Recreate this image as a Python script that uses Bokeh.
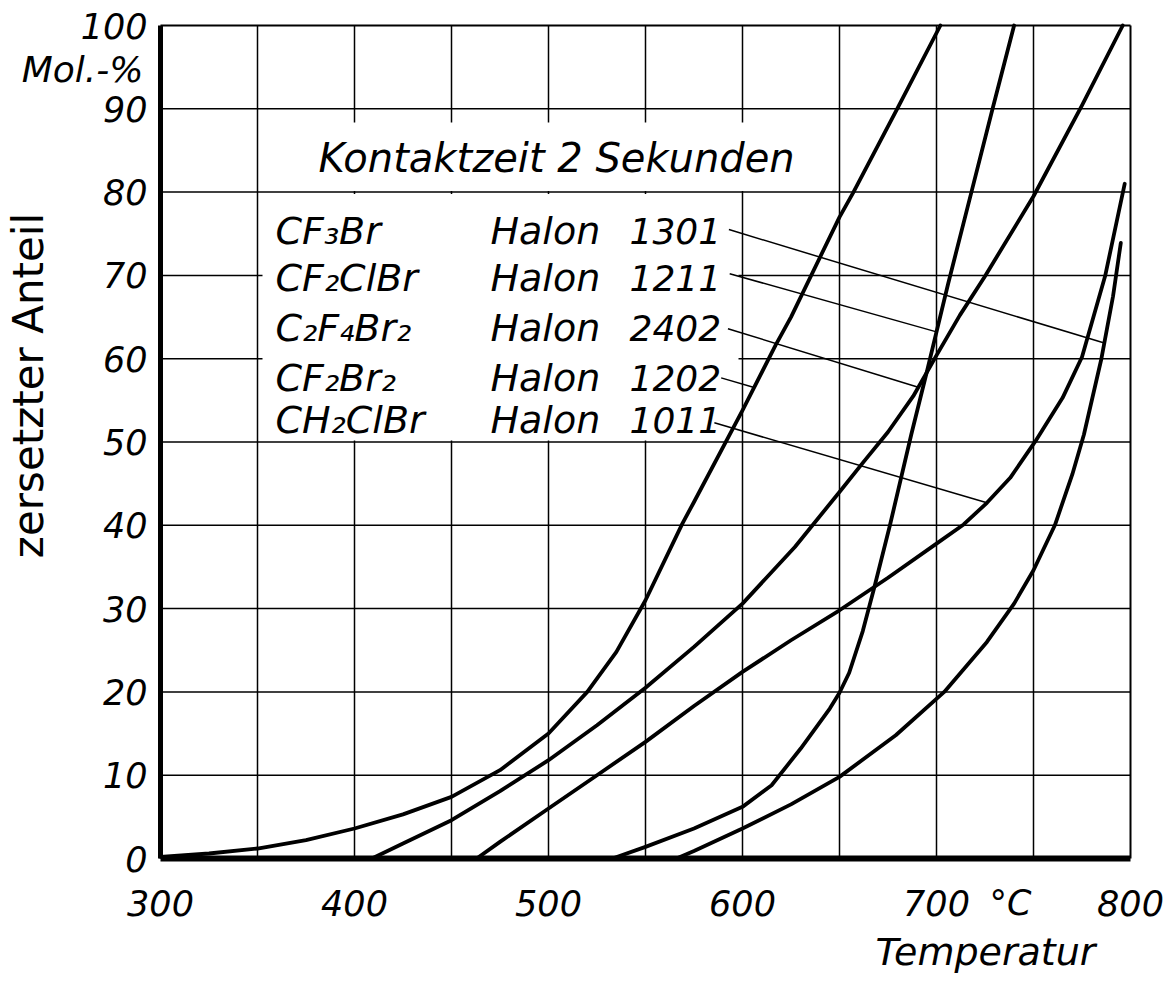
import numpy as np
from math import pi
from bokeh.plotting import figure
from bokeh.models import Range1d, Label
from bokeh.core.properties import value
from bokeh.embed import file_html
from bokeh.resources import INLINE

# ---------------- data ----------------
temp_ticks = [300, 400, 500, 600, 700, 800]
temp_grid = [350, 400, 450, 500, 550, 600, 650, 700, 750]
pct_ticks = [0, 10, 20, 30, 40, 50, 60, 70, 80, 90, 100]
pct_grid = [10, 20, 30, 40, 50, 60, 70, 80, 90]
temp_labels = ["300", "400", "500", "600", "700", "800"]
pct_labels = ["0", "10", "20", "30", "40", "50", "60", "70", "80", "90", "100"]

# CF2Br2  Halon 1202
halon_1202_t = [300, 325, 350, 375, 400, 425, 450, 475, 500, 520, 535, 550, 569, 575, 600, 617, 625, 650, 657, 680, 702]
halon_1202_p = [0.2, 0.6, 1.2, 2.2, 3.6, 5.3, 7.4, 10.6, 15.0, 20.0, 24.8, 31.0, 40.2, 42.8, 53.8, 61.6, 65.0, 77.0, 79.9, 90.1, 100]

# C2F4Br2  Halon 2402
halon_2402_t = [409, 425, 450, 475, 500, 525, 550, 575, 600, 627, 650, 662, 675, 688, 700, 712, 725, 750, 775, 796]
halon_2402_p = [0.0, 1.8, 4.6, 8.1, 11.8, 16.0, 20.5, 25.4, 30.6, 37.4, 44.0, 47.5, 51.2, 55.5, 60.4, 65.2, 69.9, 79.5, 90.4, 100]

# CH2ClBr  Halon 1011
halon_1011_t = [463, 475, 500, 525, 550, 575, 600, 625, 650, 675, 700, 714, 726, 738, 751, 765, 775, 787, 797]
halon_1011_p = [0.0, 2.0, 6.0, 10.0, 14.0, 18.3, 22.4, 26.2, 29.8, 33.7, 37.8, 40.1, 42.7, 45.7, 50.1, 55.3, 60.2, 70.0, 81.0]

# CF2ClBr  Halon 1211
halon_1211_t = [533, 550, 575, 600, 615, 630, 645, 650, 655, 662, 668, 676, 687, 695, 706, 718, 729, 740]
halon_1211_p = [0.0, 1.4, 3.6, 6.2, 8.8, 13.2, 18.0, 19.9, 22.3, 27.3, 32.6, 40.0, 50.9, 58.4, 69.0, 80.0, 90.1, 100]

# CF3Br  Halon 1301
halon_1301_t = [566, 575, 600, 625, 650, 679, 704, 726, 740, 750, 761, 770, 776, 785, 791, 795]
halon_1301_p = [0.0, 0.9, 3.6, 6.5, 9.8, 14.8, 20.0, 26.0, 30.6, 34.6, 40.0, 46.1, 50.9, 60.0, 67.5, 73.9]

formulas = ["CF\u2083Br", "CF\u2082ClBr", "C\u2082F\u2084Br\u2082", "CF\u2082Br\u2082", "CH\u2082ClBr"]
halon_numbers = ["1301", "1211", "2402", "1202", "1011"]
curves_t = [halon_1301_t, halon_1211_t, halon_2402_t, halon_1202_t, halon_1011_t]
curves_p = [halon_1301_p, halon_1211_p, halon_2402_p, halon_1202_p, halon_1011_p]

# ---------------- layout ----------------
W, H = 1167, 981
FL, FR, FT, FB = 160, 1130, 25, 858          # chart box on the page (pixels)
sx = (FR - FL) / (temp_ticks[-1] - temp_ticks[0])
sy = (FB - FT) / (pct_ticks[-1] - pct_ticks[0])
x0r = temp_ticks[0] - FL / sx
x1r = temp_ticks[-1] + (W - FR) / sx
y0r = pct_ticks[0] - (H - FB) / sy
y1r = pct_ticks[-1] + FT / sy

def tx(px):
    return temp_ticks[0] + (px - FL) / sx

def ty(py):
    return pct_ticks[0] + (FB - py) / sy

FONT = "DejaVu Sans"
row_centers_px = [230, 277.5, 327.5, 377.5, 419]
leader_start_x = [593.0, 593.4, 592.5, 589.0, 585.5]
leader_start_y = [75.5, 70.2, 63.6, 57.7, 52.3]
leader_end_x = [786.5, 700.0, 690.6, 606.0, 726.0]

p = figure(width=W, height=H,
           x_range=Range1d(x0r, x1r), y_range=Range1d(y0r, y1r),
           output_backend="svg", toolbar_location=None,
           x_axis_location=None, y_axis_location=None,
           min_border_left=0, min_border_right=0, min_border_top=0, min_border_bottom=0,
           background_fill_color="white", border_fill_color="white",
           outline_line_color=None)
p.xgrid.visible = False
p.ygrid.visible = False

t_lo, t_hi = temp_ticks[0], temp_ticks[-1]
p_lo, p_hi = pct_ticks[0], pct_ticks[-1]

# grid lines
p.segment(x0=temp_grid, y0=[p_lo] * len(temp_grid), x1=temp_grid, y1=[p_hi] * len(temp_grid),
          line_color="black", line_width=1.5)
p.segment(x0=[t_lo] * len(pct_grid), y0=pct_grid, x1=[t_hi] * len(pct_grid), y1=pct_grid,
          line_color="black", line_width=1.5)

# blank areas behind the lettering (grid interrupted there)
p.quad(left=[tx(262), tx(262)], right=[tx(738), tx(815)],
       bottom=[ty(440), ty(190.5)], top=[ty(193.5), ty(122)],
       fill_color="white", line_color=None)

# frame: thin top/right, heavy left/bottom axes
p.segment(x0=[t_lo, t_hi], y0=[p_hi, p_lo], x1=[t_hi, t_hi], y1=[p_hi, p_hi], line_color="black", line_width=2)
p.segment(x0=[t_lo], y0=[p_lo], x1=[t_lo], y1=[p_hi], line_color="black", line_width=5)
p.segment(x0=[t_lo], y0=[p_lo], x1=[t_hi], y1=[p_lo], line_color="black", line_width=6)

# leader lines from the labels to the curves
x1 = []
y1 = []
for xe, ct, cp in zip(leader_end_x, curves_t, curves_p):
    x1.append(xe)
    y1.append(float(np.interp(xe, ct, cp)))
p.segment(x0=leader_start_x, y0=leader_start_y, x1=x1, y1=y1, line_color="black", line_width=1.5)

for ct, cp in zip(curves_t, curves_p):
    p.line(ct, cp, line_color="black", line_width=3.8, line_join="round", line_cap="round")

# tick labels
p.text(x=[tx(147)] * len(pct_ticks), y=pct_ticks, text=pct_labels,
       text_font=value(FONT), text_font_size="35px", text_font_style="italic",
       text_align="right", text_baseline="middle", text_color="black")
p.text(x=temp_ticks, y=[ty(902)] * len(temp_ticks), text=temp_labels,
       text_font=value(FONT), text_font_size="35px", text_font_style="italic",
       text_align="center", text_baseline="middle", text_color="black")

def lab(x, y, text, size="38px", style="italic", align="left", angle=0):
    p.add_layout(Label(x=x, y=y, text=text, text_font=FONT, text_font_size=size,
                       text_font_style=style, text_align=align, text_baseline="middle",
                       text_color="black", angle=angle))

lab(tx(318), ty(157), "Kontaktzeit 2 Sekunden", size="40px")
for f, n, yc in zip(formulas, halon_numbers, row_centers_px):
    lab(tx(275), ty(yc), f)
    lab(tx(490), ty(yc), "Halon")
    lab(tx(629), ty(yc), n, size="36px")

lab(tx(143), ty(69), "Mol.-%", size="36px", align="right")
lab(tx(28), ty(385), "zersetzter Anteil", size="42px", style="normal", align="center", angle=pi / 2)
lab(tx(989), ty(902), "\u00b0C", size="35px")
lab(tx(875), ty(951), "Temperatur", size="38px")

open("out.html", "w").write(file_html(p, INLINE))
